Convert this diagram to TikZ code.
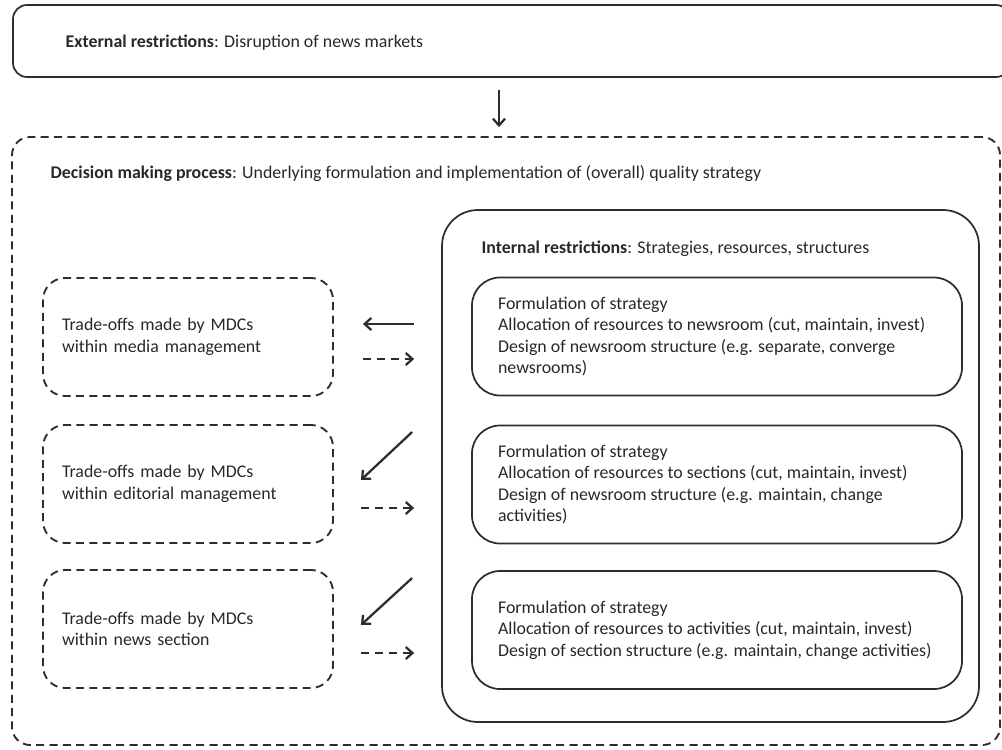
\documentclass[tikz,border=0pt]{standalone}
\usepackage{fontspec}
\setmainfont{Carlito}
\usetikzlibrary{arrows.meta, positioning, calc}
\definecolor{boxgray}{RGB}{45,45,45}
\definecolor{txtgray}{RGB}{40,40,40}

\begin{document}
\begin{tikzpicture}[x=0.75pt, y=-0.75pt,
  every node/.style={font=\fontsize{13.4pt}{16.2pt}\selectfont, text=txtgray},
  extbox/.style={draw=boxgray, line width=1.3pt, rounded corners=10.5pt, minimum width=747.75pt, minimum height=54pt},
  dmpbox/.style={draw=boxgray, line width=1.4pt, dash pattern=on 6pt off 4pt, rounded corners=13.5pt, minimum width=741pt, minimum height=456pt},
  intbox/.style={draw=boxgray, line width=1.3pt, rounded corners=27pt, minimum width=402.75pt, minimum height=384pt},
  inbox/.style={draw=boxgray, line width=1.3pt, rounded corners=21pt, minimum width=367.5pt, minimum height=88.5pt},
  intext/.style={inner sep=0pt, align=left, right=20pt of #1},
  tradebox/.style={draw=boxgray, line width=1.4pt, dash pattern=on 6pt off 4pt, rounded corners=16.5pt, minimum height=88.5pt, text width=189pt, inner xsep=14.25pt, align=left},
  flow/.style={line width=1.7pt, draw=boxgray, -{Straight Barb[length=5pt, width=9pt]}},
  backflow/.style={flow, dash pattern=on 6pt off 4.5pt}
]
  \useasboundingbox (0,0) rectangle (1002,749);

  % outer frames
  \node[extbox] (ext) at (511.5, 41) {};
  \node[anchor=west] (exttxt) at (61, 43) {\textbf{External restrictions}: Disruption of news markets};
  \node[dmpbox] (dmp) at (506, 441) {};
  \node[anchor=west] (dmptxt) at (46, 173) {\textbf{Decision making process}: Underlying formulation and implementation of (overall) quality strategy};
  \node[intbox] (intr) at (710.5, 466) {};
  \node[anchor=west] (inttxt) at (477, 249) {\textbf{Internal restrictions}: Strategies, resources, structures};

  % strategy boxes
  \node[inbox] (in1) at (717, 336.5) {};
  \node[intext=in1.west] (in1txt) {Formulation of strategy\\Allocation of resources to newsroom (cut, maintain, invest)\\Design of newsroom structure (e.g. separate, converge\\newsrooms)};
  \node[inbox] (in2) at (717, 484.5) {};
  \node[intext=in2.west] (in2txt) {Formulation of strategy\\Allocation of resources to sections (cut, maintain, invest)\\Design of newsroom structure (e.g. maintain, change\\activities)};
  \node[inbox] (in3) at (717, 630) {};
  \node[intext=in3.west] (in3txt) {Formulation of strategy\\Allocation of resources to activities (cut, maintain, invest)\\Design of section structure (e.g. maintain, change activities)};

  % trade-off boxes
  \node[tradebox] (lb1) at (188, 337) {Trade-offs made by MDCs\\within media management};
  \node[tradebox] (lb2) at (188, 484) {Trade-offs made by MDCs\\within editorial management};
  \node[tradebox] (lb3) at (188, 629) {Trade-offs made by MDCs\\within news section};

  % arrows
  \draw[flow] ($(ext.south)+(-12.5,12)$) -- ($(dmp.north)+(-7,-9)$);
  \draw[flow] ($(in1.west)+(-57,-12.5)$) -- ($(lb1.east)+(29,-13)$);
  \draw[backflow] ($(lb1.east)+(29,22)$) -- ($(in1.west)+(-57,22.5)$);
  \draw[flow] ($(in2.west)+(-59,-52.5)$) -- ($(lb2.east)+(27,-4)$);
  \draw[backflow] ($(lb2.east)+(27,24)$) -- ($(in2.west)+(-57,23.5)$);
  \draw[flow] ($(in3.west)+(-59,-52)$) -- ($(lb3.east)+(27,-4)$);
  \draw[backflow] ($(lb3.east)+(27,24)$) -- ($(in3.west)+(-57,23)$);
\end{tikzpicture}
\end{document}
